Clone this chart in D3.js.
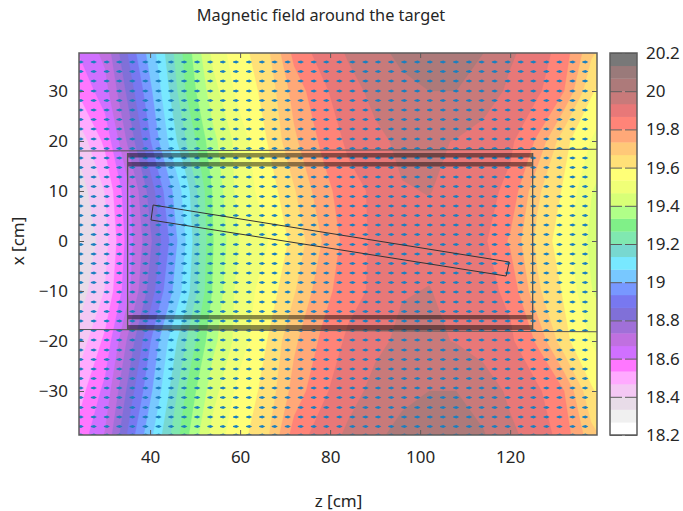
<!DOCTYPE html>
<html><head><meta charset="utf-8">
<script src="https://cdn.jsdelivr.net/npm/d3@7"></script>
<style>
html,body{margin:0;padding:0;background:#fff}
svg{display:block}
text{font-family:"Noto Sans",sans-serif;fill:#262626}
</style></head><body><svg id="c" width="683" height="511"></svg>
<script>
const title = "Magnetic field around the target";
const xLabel = "z [cm]";
const yLabel = "x [cm]";
const zTicks = [40,60,80,100,120];
const xTicks = [30,20,10,0,-10,-20,-30];
const cbTicks = [18.2,18.4,18.6,18.8,19,19.2,19.4,19.6,19.8,20,20.2];
const palette = ["#ffffff","#f0f0f0","#e8dce8","#f4c8f4","#ffaaff","#ff77ff","#d070ff","#c070e0","#a070d8","#8070d8","#7878f0","#7898ff","#78c8ff","#78e8ff","#78d8d0","#80e8b0","#80f088","#b0ff88","#d8ff77","#f0ff77","#ffff77","#ffe078","#ffc878","#ffa878","#ff8478","#e87878","#c87a7a","#ad7a7a","#9a7a7a","#787878"];
const fieldZ = [24,30,36,42,48,54,60,66,72,78,84,90,96,102,108,114,120,126,132,138,144];
const fieldX = [40,30,20,10,0,-10,-20,-30,-40];
const fieldRows = [
[18.62,18.70,18.92,19.10,19.30,19.50,19.58,19.66,19.84,19.90,19.95,19.99,20.03,20.05,20.04,20.01,19.95,19.91,19.84,19.70,19.62],
[18.54,18.64,18.85,19.05,19.27,19.44,19.56,19.62,19.76,19.85,19.91,19.95,19.98,20.00,20.00,19.97,19.92,19.88,19.80,19.61,19.53],
[18.42,18.55,18.78,19.00,19.20,19.38,19.50,19.60,19.72,19.81,19.88,19.92,19.945,19.945,19.93,19.905,19.88,19.79,19.62,19.53,19.46],
[18.36,18.47,18.68,18.90,19.10,19.34,19.50,19.56,19.66,19.77,19.84,19.88,19.93,19.935,19.92,19.89,19.85,19.68,19.59,19.47,19.40],
[18.32,18.44,18.66,18.85,19.07,19.33,19.47,19.53,19.62,19.73,19.83,19.88,19.91,19.92,19.91,19.88,19.79,19.65,19.56,19.45,19.38],
[18.36,18.47,18.68,18.90,19.10,19.34,19.50,19.56,19.66,19.77,19.84,19.88,19.93,19.935,19.92,19.89,19.85,19.68,19.59,19.47,19.40],
[18.42,18.55,18.78,19.00,19.20,19.38,19.50,19.60,19.72,19.81,19.88,19.92,19.945,19.945,19.93,19.905,19.88,19.79,19.62,19.53,19.46],
[18.50,18.62,18.85,19.05,19.27,19.44,19.56,19.62,19.76,19.85,19.91,19.95,19.98,20.00,20.00,19.97,19.92,19.88,19.80,19.61,19.53],
[18.56,18.68,18.92,19.12,19.32,19.50,19.58,19.66,19.84,19.90,19.95,19.99,20.03,20.05,20.04,20.01,19.95,19.91,19.84,19.70,19.62]
];
const arrowZ = [24.6,27.5,30.4,33.2,36.1,39,41.9,44.7,47.6,50.5,53.4,56.2,59.1,62,64.9,67.7,70.6,73.5,76.4,79.2,82.1,85,87.9,90.7,93.6,96.5,99.4,102.2,105.1,108,110.9,113.7,116.6,119.5,122.4,125.2,128.1,131,133.9,136.7];
const arrowX = [35.8,33.9,32,30,28.1,26.2,24.3,22.4,20.4,18.5,16.6,14.7,12.8,10.9,8.9,7,5.1,3.2,1.3,-0.7,-2.6,-4.5,-6.4,-8.3,-10.2,-12.2,-14.1,-16,-17.9,-19.8,-21.8,-23.7,-25.6,-27.5,-29.4,-31.3,-33.3,-35.2,-37.1,-38.8];
const arrowDz = 1.35;
const magnetBands = [[17.6,16.7],[15.8,14.9],[-14.8,-15.66],[-16.8,-17.8]];
const magnetZ = [35,125];
const rails = [[[24.2,18],[139.3,18.35]],[[24.2,-17.7],[139.3,-18.15]]];
const target = [[40.67,7.2],[119.8,-4.2],[119.1,-7],[40.2,4.2]];
const zDomain = [24.2,139.3], xDomain = [37.6,-38.8], cbDomain = [18.2,20.2];

const svg = d3.select("#c");
const zS = d3.scaleLinear().domain(zDomain).range([79,597]);
const xS = d3.scaleLinear().domain(xDomain).range([53,435]);
const cS = d3.scaleLinear().domain(cbDomain).range([435,53]);
const ink = "#5c5c5c";

svg.append("defs").append("clipPath").attr("id","pc").append("rect")
  .attr("x",79).attr("y",53).attr("width",518).attr("height",382);

const plot = svg.append("g").attr("clip-path","url(#pc)");
const n = fieldZ.length, m = fieldX.length;
const step = (fieldZ[1]-fieldZ[0]), stepX = fieldX[0]-fieldX[1];
const thresholds = palette.map((_,i)=>cbDomain[0]+i*(cbDomain[1]-cbDomain[0])/palette.length);
const contours = d3.contours().size([n,m]).smooth(true).thresholds(thresholds)(fieldRows.flat());
const proj = d3.geoTransform({point(px,py){
  this.stream.point(zS(fieldZ[0]+(px-0.5)*step), xS(fieldX[0]-(py-0.5)*stepX));
}});
const gp = d3.geoPath(proj);
plot.append("g").selectAll("path").data(contours).join("path")
  .attr("d",gp).attr("fill",(d,i)=>palette[i]).attr("stroke",(d,i)=>palette[i]).attr("stroke-width",0.3);

// arrows
const arrows = arrowX.flatMap(x=>arrowZ.map(z=>({z,x})));
plot.append("g").selectAll("path").data(arrows).join("path")
  .attr("d",d=>{
    const x0=zS(d.z-arrowDz/2), x1=zS(d.z+arrowDz/2), y=xS(d.x);
    const h=d3.path();
    h.moveTo(x0,y-0.5);h.lineTo(x1-2.8,y-1.5);h.lineTo(x1,y);h.lineTo(x1-2.8,y+1.5);h.lineTo(x0,y+0.5);h.closePath();
    return h.toString();
  }).attr("fill","#1a7fbf");

// magnets
const lineG = plot.append("g");
lineG.selectAll("rect.b").data(magnetBands).join("rect").attr("class","b")
  .attr("x",zS(magnetZ[0])).attr("width",zS(magnetZ[1])-zS(magnetZ[0]))
  .attr("y",d=>xS(d[0])).attr("height",d=>xS(d[1])-xS(d[0]))
  .attr("fill","#000").attr("fill-opacity",0.45);
const lf = d3.line().x(d=>zS(d[0])).y(d=>xS(d[1]));
lineG.selectAll("path.r").data(rails).join("path").attr("class","r")
  .attr("d",lf).attr("fill","none").attr("stroke","#555").attr("stroke-width",1);
lineG.selectAll("line.v").data(magnetZ).join("line").attr("class","v")
  .attr("x1",d=>zS(d)).attr("x2",d=>zS(d))
  .attr("y1",xS(magnetBands[0][0])).attr("y2",xS(magnetBands[3][1]))
  .attr("stroke","#555").attr("stroke-width",1.3);
lineG.append("path").attr("d",lf(target)+"Z").attr("fill","none").attr("stroke","#333").attr("stroke-width",1);

// frame and axes
svg.append("rect").attr("x",79).attr("y",53).attr("width",518).attr("height",382)
  .attr("fill","none").attr("stroke",ink).attr("stroke-width",1.5);
function style(g){
  g.select(".domain").remove();
  g.selectAll(".tick line").attr("stroke",ink).attr("stroke-width",1);
  g.selectAll(".tick text").attr("font-size",17).attr("font-family",'"Noto Sans",sans-serif').attr("fill","#262626");
}
svg.append("g").attr("transform","translate(0,435)").call(d3.axisBottom(zS).tickValues(zTicks).tickSizeInner(-5).tickPadding(16).tickSizeOuter(0)).call(style);
svg.append("g").attr("transform","translate(0,53)").call(d3.axisTop(zS).tickValues(zTicks).tickSizeInner(-5).tickFormat("").tickSizeOuter(0)).call(style);
svg.append("g").attr("transform","translate(79,0)").call(d3.axisLeft(xS).tickValues(xTicks).tickSizeInner(-5).tickPadding(11).tickSizeOuter(0)).call(style);
svg.append("g").attr("transform","translate(597,0)").call(d3.axisRight(xS).tickValues(xTicks).tickSizeInner(-5).tickFormat("").tickSizeOuter(0)).call(style);

// colour bar
const bandH = (cbDomain[1]-cbDomain[0])/palette.length;
svg.append("g").selectAll("rect").data(palette).join("rect")
  .attr("x",610).attr("width",27)
  .attr("y",(d,i)=>cS(cbDomain[0]+(i+1)*bandH)).attr("height",(d,i)=>cS(cbDomain[0]+i*bandH)-cS(cbDomain[0]+(i+1)*bandH)+0.3)
  .attr("fill",d=>d);
svg.append("rect").attr("x",610).attr("y",53).attr("width",27).attr("height",382).attr("fill","none").attr("stroke",ink).attr("stroke-width",1.5);
svg.append("g").attr("transform","translate(637,0)").call(d3.axisRight(cS).tickValues(cbTicks).tickSizeInner(-27).tickPadding(9).tickSizeOuter(0).tickFormat(d3.format("~g"))).call(style)
  .selectAll(".tick line").attr("stroke-dasharray","12,3,12");

// titles
svg.append("text").attr("x",321).attr("y",21).attr("text-anchor","middle").attr("font-size",16.3).text(title);
svg.append("text").attr("x",338.5).attr("y",507).attr("text-anchor","middle").attr("font-size",17).text(xLabel);
svg.append("text").attr("transform","translate(24,241) rotate(-90)").attr("text-anchor","middle").attr("font-size",17).text(yLabel);
</script></body></html>
